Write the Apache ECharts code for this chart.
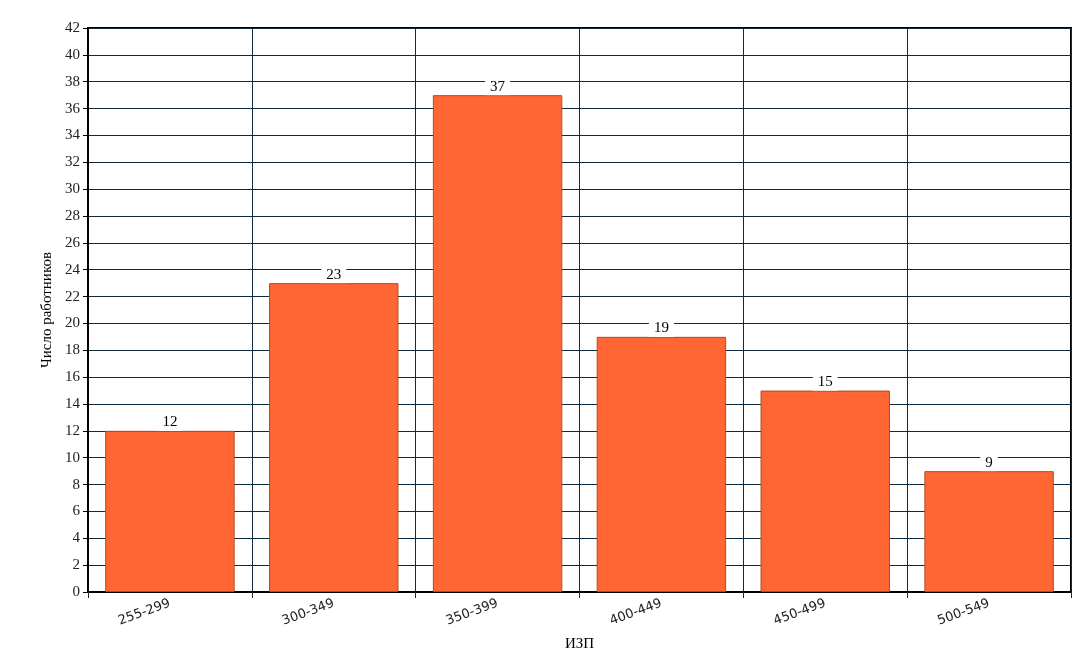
<!DOCTYPE html>
<html><head><meta charset="utf-8">
<script src="https://cdn.jsdelivr.net/npm/echarts@6/dist/echarts.min.js"></script>
<style>html,body{margin:0;padding:0;background:#fff}#c{width:1075px;height:651px}</style>
</head><body><div id="c"></div>
<script>
const categories = ["255-299","300-349","350-399","400-449","450-499","500-549"];
const values = [12,23,37,19,15,9];
const xName = "ИЗП";
const yName = "Число работников";
const yMax = 42, yStep = 2;

const chart = echarts.init(document.getElementById('c'));
chart.setOption({
  animation:false,
  grid:{left:88,top:28,right:4,bottom:59,containLabel:false,outerBoundsMode:'none',show:true,borderColor:'#000',borderWidth:2,backgroundColor:'#fff'},
  xAxis:{
    type:'category',data:categories,
    name:xName,nameLocation:'middle',nameGap:45,
    nameTextStyle:{fontFamily:'Liberation Serif',fontSize:15,color:'#000'},
    axisLine:{lineStyle:{color:'#000',width:2}},
    axisTick:{show:true,alignWithLabel:false,length:6,lineStyle:{color:'#0d2b3e'}},
    axisLabel:{rotate:20,margin:11,fontFamily:'DejaVu Sans',fontSize:13,color:'#222'},
    splitLine:{show:true,lineStyle:{color:'#0d2b3e',width:1}}
  },
  yAxis:{
    type:'value',min:0,max:yMax,interval:yStep,
    name:yName,nameLocation:'middle',nameGap:30,
    nameTextStyle:{fontFamily:'Liberation Serif',fontSize:15,color:'#000'},
    axisLine:{show:true,lineStyle:{color:'#000',width:2}},
    axisTick:{show:true,length:5,lineStyle:{color:'#000'}},
    axisLabel:{margin:8,fontFamily:'Liberation Serif',fontSize:15,color:'#222'},
    splitLine:{show:true,lineStyle:{color:'#0d2b3e',width:1}}
  },
  series:[{
    type:'bar',data:values,barCategoryGap:'21%',
    itemStyle:{color:'#ff6633',borderColor:'#b04a25',borderWidth:1},
    label:{show:true,position:'top',distance:0,fontFamily:'Liberation Serif',fontSize:15,color:'#000',
      backgroundColor:'#fff',padding:[0,5,1,5]}
  }]
});
</script></body></html>
